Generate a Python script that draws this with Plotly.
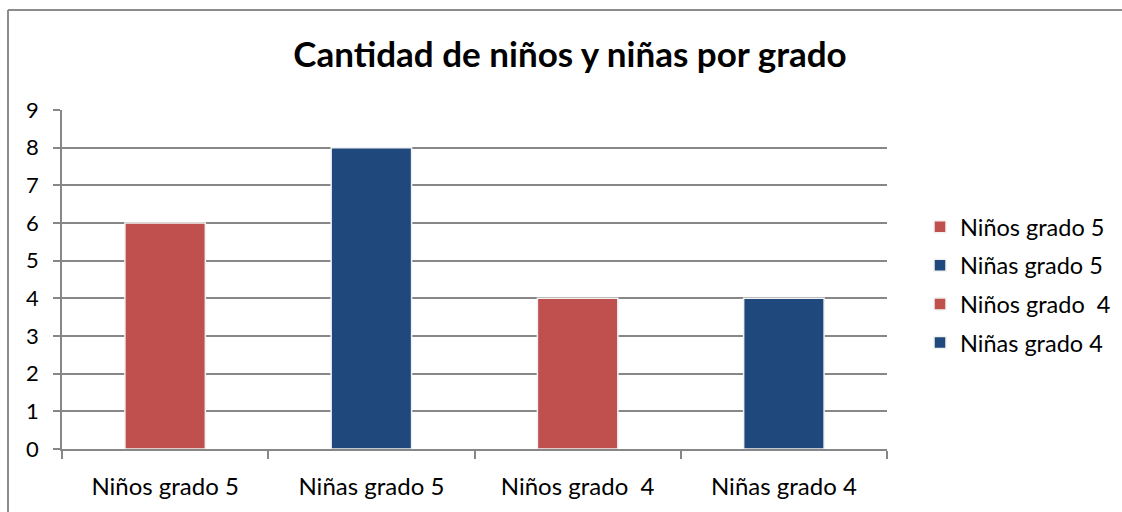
import plotly.graph_objects as go

categories = ["Niños grado 5", "Niñas grado 5", "Niños grado  4", "Niñas grado 4"]
tick_labels = ["Niños grado 5", "Niñas grado 5", "Niños grado  4", "Niñas grado 4"]
values = [6, 8, 4, 4]
colors = ["#C0504D", "#1F497D", "#C0504D", "#1F497D"]
y_ticks = [0, 1, 2, 3, 4, 5, 6, 7, 8, 9]

W, H = 1122, 512
L, R, T, B = 62, 235, 110, 63

fig = go.Figure()
for i, (cat, val, col) in enumerate(zip(categories, values, colors)):
    fig.add_trace(go.Bar(
        x=[cat], y=[val], name=cat, legendgroup=f"g{i}",
        marker=dict(color=col, line=dict(color="#f2f2f2", width=1.5)),
        width=0.39,
    ))

pw = W - L - R
ph = H - T - B
# outer chart border (top and left visible)
fig.add_shape(type="line", xref="paper", yref="paper",
              x0=(8 - L) / pw, x1=(W - L) / pw + 0.02,
              y0=(H - B - 10) / ph, y1=(H - B - 10) / ph,
              line=dict(color="#8c8c8c", width=2))
fig.add_shape(type="line", xref="paper", yref="paper",
              x0=(8 - L) / pw, x1=(8 - L) / pw,
              y0=(H - B - 10) / ph, y1=-B / ph - 0.02,
              line=dict(color="#8c8c8c", width=2))

fig.update_layout(
    width=W, height=H,
    margin=dict(l=L, r=R, t=T, b=B, autoexpand=False),
    paper_bgcolor="white", plot_bgcolor="white",
    barmode="overlay",
    font=dict(family="Lato, Carlito, Calibri, sans-serif", size=23, color="#000000"),
    title=dict(text="<b>Cantidad de niños y niñas por grado</b>",
               x=570 / W, xanchor="center", y=1 - 55 / H, yanchor="middle",
               font=dict(size=35, family="Lato, Carlito, sans-serif", color="#000000")),
    showlegend=True,
    legend=dict(x=(920 - L) / pw, xanchor="left", y=(H - B - 285) / ph, yanchor="middle",
                font=dict(size=23.5), tracegroupgap=5, itemwidth=30,
                bgcolor="rgba(0,0,0,0)"),
    xaxis=dict(
        categoryorder="array", categoryarray=categories,
        tickvals=categories, ticktext=tick_labels,
        tickson="boundaries", ticks="outside", ticklen=8, tickcolor="#878787", tickwidth=1.5,
        showline=True, linecolor="#878787", linewidth=1.5,
        showgrid=False, ticklabelstandoff=15,
        tickfont=dict(size=24),
    ),
    yaxis=dict(
        range=[0, 9], tickvals=y_ticks, ticks="outside", ticklen=7,
        tickcolor="#878787", tickwidth=1.5,
        showline=True, linecolor="#878787", linewidth=1.5,
        showgrid=True, gridcolor="#878787", gridwidth=1.5,
        zeroline=False, ticklabelstandoff=10,
        tickfont=dict(size=22),
    ),
)

fig.write_html("out.html", config={"displayModeBar": False},
               post_script="document.body.style.margin='0';")
